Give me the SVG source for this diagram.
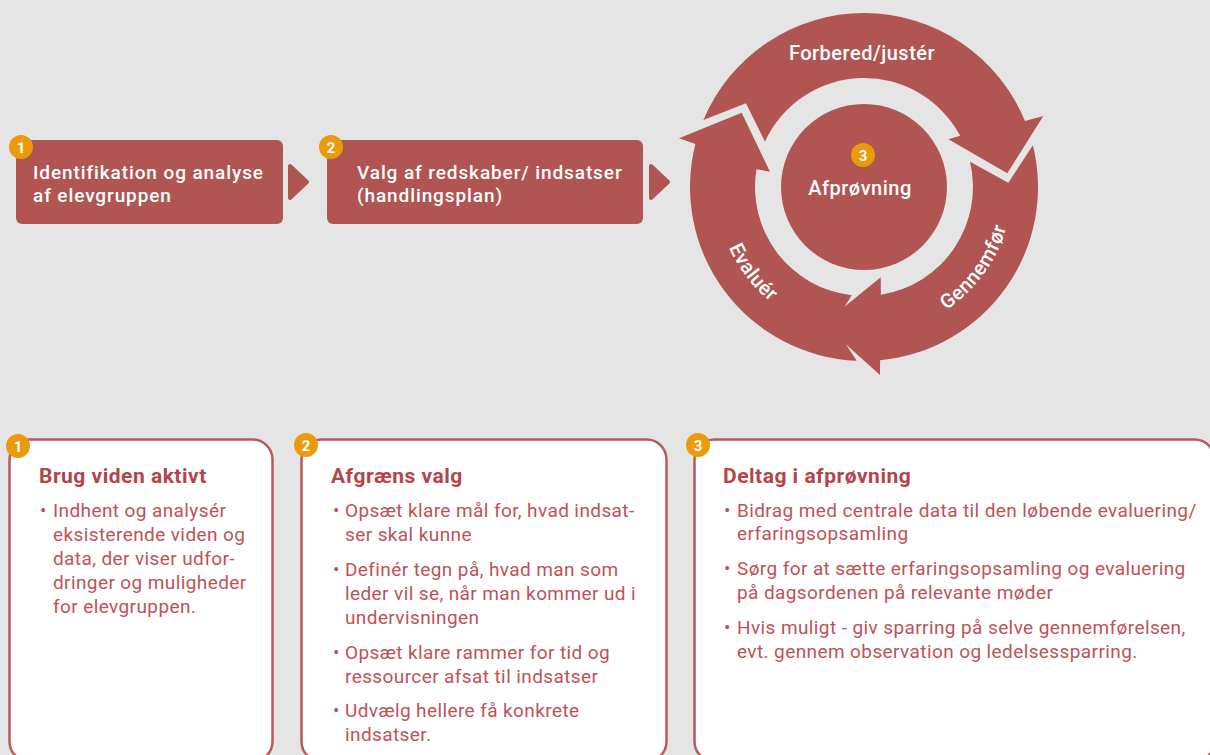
<svg xmlns="http://www.w3.org/2000/svg" width="1210" height="755" viewBox="0 0 1210 755">
<style>
.red{fill:#B05552}
.badge{fill:#EA9A0B}
.bnum{fill:#fff;font-family:Roboto,"Liberation Sans",sans-serif;font-weight:700;font-size:15px;text-anchor:middle}
.wt{fill:#fff;font-family:Roboto,"Liberation Sans",sans-serif;font-weight:500;font-size:20px;letter-spacing:0.5px}
.wb{fill:#fff;font-family:Roboto,"Liberation Sans",sans-serif;font-weight:500;font-size:19px;letter-spacing:0.9px}
.card{fill:#fff;stroke:#B85A5A;stroke-width:2.5}
.ttl{fill:#B3444B;font-family:Roboto,"Liberation Sans",sans-serif;font-weight:700;font-size:21px;letter-spacing:0.5px}
.bt{fill:#BE5257;font-family:Roboto,"Liberation Sans",sans-serif;font-size:19px;letter-spacing:0.4px}
.tri{fill:#B05552;stroke:#B05552;stroke-width:4;stroke-linejoin:round}
</style>
<defs>
<path id="pEval" d="M716.6,199.9 A148,148 0 0 0 813.4,326.1"/>
<path id="pGen" d="M912.2,326.9 A148,148 0 0 0 1012,189.6"/>
</defs>
<rect width="1210" height="755" fill="#E5E5E5"/>

<g id="connectors">
<polygon class="tri" points="290,166 307,182 290,198"/>
<polygon class="tri" points="651,166 668,182 651,198"/>
</g>

<g id="step1">
<rect class="red" x="16" y="140" width="267" height="84" rx="6"/>
<circle class="badge" cx="21" cy="147" r="12"/>
<text class="bnum" x="21" y="152.5">1</text>
<text class="wb" x="33" y="179">Identifikation og analyse</text>
<text class="wb" x="33" y="202">af elevgruppen</text>
</g>

<g id="step2">
<rect class="red" x="327" y="140" width="316" height="84" rx="6"/>
<circle class="badge" cx="331" cy="147" r="12"/>
<text class="bnum" x="331" y="152.5">2</text>
<text class="wb" x="357" y="179">Valg af redskaber/ indsatser</text>
<text class="wb" x="357" y="202">(handlingsplan)</text>
</g>

<g id="cycle">
<path id="arrow-forbered" class="red" d="M703.4,120.1 A174,174 0 0 1 1025,121.1 L1043.3,116 L1007.3,173.3 L948.3,139.3 L960.2,135.8 A109,109 0 0 0 764.9,141.6 L746,103.3 Z"/>
<path id="arrow-gennemfor" class="red" d="M1032.9,145.2 A174,174 0 0 1 880.1,360.3 L880,375 L823.3,324 L880.7,277.3 L880.9,294.7 A109,109 0 0 0 970,161.7 L1008.3,182.7 Z"/>
<path id="arrow-evaluer" class="red" d="M856.7,360.8 A174,174 0 0 1 695.4,144 L679,138.3 L741.7,112.7 L770,171.7 L756.5,169.2 A109,109 0 0 0 851.7,295.3 L833.3,325 Z"/>
<text class="wt" x="862" y="60" text-anchor="middle">Forbered/justér</text>
<text class="wt"><textPath href="#pEval" startOffset="50%" text-anchor="middle">Evaluér</textPath></text>
<text class="wt"><textPath href="#pGen" startOffset="50%" text-anchor="middle">Gennemfør</textPath></text>
</g>

<g id="step3">
<circle class="red" cx="864" cy="187" r="83"/>
<circle class="badge" cx="863" cy="155" r="12"/>
<text class="bnum" x="863" y="160.5">3</text>
<text class="wt" x="860" y="195" text-anchor="middle">Afprøvning</text>
</g>

<g id="card1">
<rect class="card" x="9.5" y="439.5" width="263" height="322" rx="20"/>
<circle class="badge" cx="18" cy="446" r="12"/>
<text class="bnum" x="18" y="451.5">1</text>
<text class="ttl" x="39" y="483">Brug viden aktivt</text>
<text class="bt" x="40" y="517">•</text>
<text class="bt"><tspan x="53" y="517">Indhent og analysér</tspan><tspan x="53" y="541">eksisterende viden og</tspan><tspan x="53" y="565">data, der viser udfor-</tspan><tspan x="53" y="589">dringer og muligheder</tspan><tspan x="53" y="613">for elevgruppen.</tspan></text>
</g>

<g id="card2">
<rect class="card" x="301.5" y="439.5" width="365" height="322" rx="20"/>
<circle class="badge" cx="306" cy="445" r="12"/>
<text class="bnum" x="306" y="450.5">2</text>
<text class="ttl" x="331" y="483">Afgræns valg</text>
<text class="bt" x="333" y="517">•</text>
<text class="bt" x="333" y="576">•</text>
<text class="bt" x="333" y="659">•</text>
<text class="bt" x="333" y="717">•</text>
<text class="bt"><tspan x="345" y="517">Opsæt klare mål for, hvad indsat-</tspan><tspan x="345" y="541">ser skal kunne</tspan><tspan x="345" y="576">Definér tegn på, hvad man som</tspan><tspan x="345" y="600">leder vil se, når man kommer ud i</tspan><tspan x="345" y="624">undervisningen</tspan><tspan x="345" y="659">Opsæt klare rammer for tid og</tspan><tspan x="345" y="683">ressourcer afsat til indsatser</tspan><tspan x="345" y="717">Udvælg hellere få konkrete</tspan><tspan x="345" y="741">indsatser.</tspan></text>
</g>

<g id="card3">
<rect class="card" x="694.5" y="439.5" width="520" height="322" rx="20"/>
<circle class="badge" cx="698" cy="445" r="12"/>
<text class="bnum" x="698" y="450.5">3</text>
<text class="ttl" x="723" y="483">Deltag i afprøvning</text>
<text class="bt" x="724" y="517">•</text>
<text class="bt" x="724" y="575">•</text>
<text class="bt" x="724" y="634">•</text>
<text class="bt"><tspan x="737" y="517">Bidrag med centrale data til den løbende evaluering/</tspan><tspan x="737" y="540">erfaringsopsamling</tspan><tspan x="737" y="575">Sørg for at sætte erfaringsopsamling og evaluering</tspan><tspan x="737" y="599">på dagsordenen på relevante møder</tspan><tspan x="737" y="634">Hvis muligt - giv sparring på selve gennemførelsen,</tspan><tspan x="737" y="658">evt. gennem observation og ledelsessparring.</tspan></text>
</g>
</svg>
